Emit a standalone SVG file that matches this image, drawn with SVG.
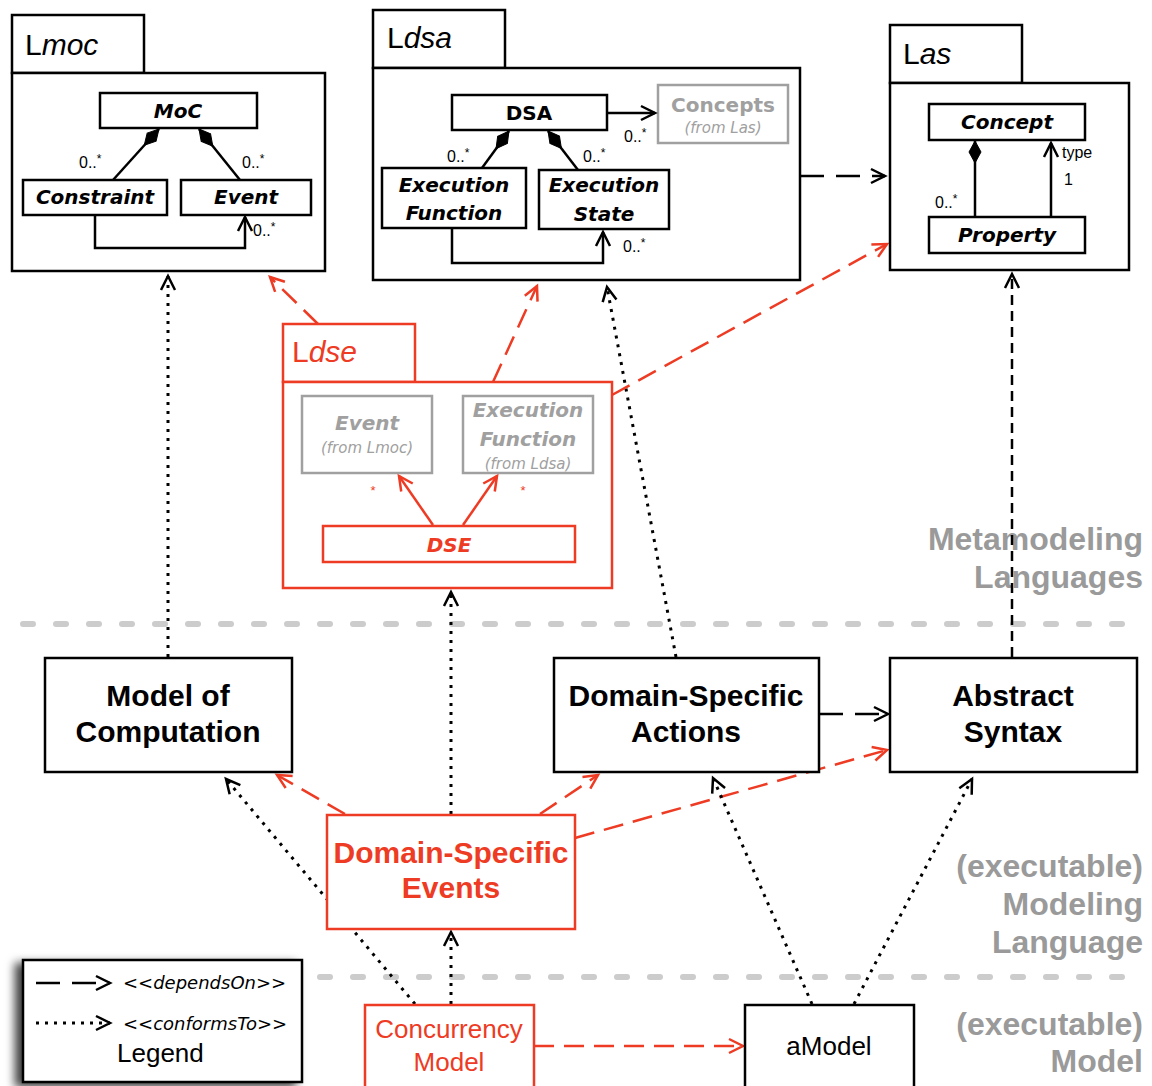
<svg xmlns="http://www.w3.org/2000/svg" width="1152" height="1086" viewBox="0 0 1152 1086">
<style>
.box{fill:#fff;stroke:#000;stroke-width:2.5}
.rbox{fill:#fff;stroke:#ee3b24;stroke-width:2.5}
.gbox{fill:#fff;stroke:#a0a0a0;stroke-width:2.5}
.pkg{font-family:"Liberation Sans",Arial,sans-serif;font-size:30px;fill:#000}
.uml{font-family:"DejaVu Sans",Verdana,sans-serif;font-size:20px;font-weight:bold;font-style:italic;text-anchor:middle;fill:#000}
.big{font-family:"Liberation Sans",Arial,sans-serif;font-size:30px;font-weight:bold;text-anchor:middle;fill:#000}
.mult{font-family:"Liberation Sans",Arial,sans-serif;font-size:16px;fill:#000}
.side{font-family:"Liberation Sans",Arial,sans-serif;font-size:32px;font-weight:bold;text-anchor:end;fill:#9a9a9a}
.from{font-family:"DejaVu Sans",Verdana,sans-serif;font-size:15px;font-style:italic;text-anchor:middle;fill:#a0a0a0}
.leg{font-family:"DejaVu Sans",Verdana,sans-serif;font-size:18px;font-style:italic;fill:#000}
.plain{font-family:"Liberation Sans",Arial,sans-serif;font-size:26px;text-anchor:middle;fill:#000}
.gray{fill:#a0a0a0}
.red{fill:#ee3b24}
.norm{font-style:normal}
.ln{fill:none;stroke:#000;stroke-width:2.5}
.dot{fill:none;stroke:#000;stroke-width:3;stroke-dasharray:3,6}
.dash{fill:none;stroke:#000;stroke-width:2.5;stroke-dasharray:10,6}
.ldash{fill:none;stroke:#000;stroke-width:2.5;stroke-dasharray:24,12}
.rdash{fill:none;stroke:#ee3b24;stroke-width:2.5;stroke-dasharray:20,10}
.rln{fill:none;stroke:#ee3b24;stroke-width:2.5}
.sep{fill:none;stroke:#cccccc;stroke-width:6;stroke-linecap:round;stroke-dasharray:10,23}
</style>
<defs>
<marker id="ab" markerUnits="userSpaceOnUse" viewBox="-16 -10 20 20" markerWidth="20" markerHeight="20" refX="0" refY="0" orient="auto" overflow="visible">
<path d="M-14,-7 L0,0 L-14,7" fill="none" stroke="#000" stroke-width="2.5" stroke-dasharray="none"/>
</marker>
<marker id="ar" markerUnits="userSpaceOnUse" viewBox="-16 -10 20 20" markerWidth="20" markerHeight="20" refX="0" refY="0" orient="auto" overflow="visible">
<path d="M-14,-7 L0,0 L-14,7" fill="none" stroke="#ee3b24" stroke-width="2.5" stroke-dasharray="none"/>
</marker>
<marker id="dia" markerUnits="userSpaceOnUse" viewBox="-2 -8 26 16" markerWidth="26" markerHeight="16" refX="0" refY="0" orient="auto" overflow="visible">
<path d="M0,0 L11,-6 L22,0 L11,6 Z" fill="#000" stroke="#000" stroke-width="1"/>
</marker>
<filter id="shadow" x="-20%" y="-20%" width="140%" height="150%">
<feDropShadow dx="-7" dy="4" stdDeviation="5" flood-color="#000" flood-opacity="0.75"/>
</filter>
</defs>

<!-- separators -->
<g id="separators">
<line class="sep" x1="23" y1="624" x2="1145" y2="624"/>
<line class="sep" x1="320" y1="977" x2="1145" y2="977"/>
</g>

<!-- side labels -->
<g id="level-labels">
<text class="side" x="1143" y="550">Metamodeling</text>
<text class="side" x="1143" y="588">Languages</text>
<text class="side" x="1143" y="877">(executable)</text>
<text class="side" x="1143" y="915">Modeling</text>
<text class="side" x="1143" y="953">Language</text>
<text class="side" x="1143" y="1035">(executable)</text>
<text class="side" x="1143" y="1072">Model</text>
</g>

<!-- connectors -->
<g id="connectors">
<line class="dot" x1="168" y1="657" x2="168" y2="276" marker-end="url(#ab)"/>
<line class="dot" x1="676" y1="657" x2="607" y2="287" marker-end="url(#ab)"/>
<line class="dot" x1="451" y1="814" x2="451" y2="592" marker-end="url(#ab)"/>
<line class="dash" x1="1012" y1="657" x2="1012" y2="274" marker-end="url(#ab)"/>
<line class="ldash" x1="800" y1="176" x2="885" y2="176" marker-end="url(#ab)"/>
<line class="rdash" x1="318" y1="324" x2="270" y2="277" marker-end="url(#ar)"/>
<line class="rdash" x1="493" y1="382" x2="537" y2="286" marker-end="url(#ar)"/>
<line class="rdash" x1="612" y1="395" x2="887" y2="244" marker-end="url(#ar)"/>
<line class="ldash" x1="819" y1="714" x2="888" y2="714" marker-end="url(#ab)"/>
<line class="rdash" x1="345" y1="814" x2="277" y2="775" marker-end="url(#ar)"/>
<line class="rdash" x1="540" y1="814" x2="598" y2="775" marker-end="url(#ar)"/>
<line class="rdash" x1="575" y1="838" x2="887" y2="750" marker-end="url(#ar)"/>
<line class="dot" x1="415" y1="1004" x2="226" y2="779" marker-end="url(#ab)"/>
<line class="dot" x1="451" y1="1004" x2="451" y2="932" marker-end="url(#ab)"/>
<line class="rdash" x1="534" y1="1046" x2="743" y2="1046" marker-end="url(#ar)"/>
<line class="dot" x1="812" y1="1004" x2="713" y2="778" marker-end="url(#ab)"/>
<line class="dot" x1="854" y1="1004" x2="972" y2="779" marker-end="url(#ab)"/>
</g>

<!-- Lmoc package -->
<g id="Lmoc">
<rect class="box" x="12" y="15" width="132" height="58"/>
<rect class="box" x="12" y="73" width="313" height="198"/>
<text class="pkg" x="25" y="55">L<tspan font-style="italic">moc</tspan></text>
<g id="MoC"><rect class="box" x="100" y="93" width="157" height="35"/><text class="uml" x="178" y="118">MoC</text></g>
<g id="Constraint"><rect class="box" x="23" y="180" width="144" height="35"/><text class="uml" x="95" y="204">Constraint</text></g>
<g id="Event"><rect class="box" x="181" y="180" width="130" height="35"/><text class="uml" x="246" y="204">Event</text></g>
<line class="ln" x1="159" y1="129" x2="113" y2="180" marker-start="url(#dia)"/>
<line class="ln" x1="199" y1="129" x2="240" y2="180" marker-start="url(#dia)"/>
<path class="ln" d="M95,215 V248 H245 V217" marker-end="url(#ab)"/>
<text class="mult" x="79" y="168">0..<tspan dy="-5" font-size="12">*</tspan></text>
<text class="mult" x="242" y="168">0..<tspan dy="-5" font-size="12">*</tspan></text>
<text class="mult" x="253" y="236">0..<tspan dy="-5" font-size="12">*</tspan></text>
</g>

<!-- Ldsa package -->
<g id="Ldsa">
<rect class="box" x="373" y="10" width="132" height="58"/>
<rect class="box" x="373" y="68" width="427" height="212"/>
<text class="pkg" x="387" y="48">L<tspan font-style="italic">dsa</tspan></text>
<g id="DSA"><rect class="box" x="452" y="95" width="155" height="35"/><text class="uml norm" x="529" y="120">DSA</text></g>
<g id="Concepts"><rect class="gbox" x="658" y="85" width="130" height="58"/>
<text class="uml norm gray" x="723" y="112">Concepts</text>
<text class="from" x="723" y="133">(from Las)</text></g>
<g id="ExecutionFunction"><rect class="box" x="382" y="168" width="144" height="60"/>
<text class="uml" x="454" y="192">Execution</text><text class="uml" x="454" y="220">Function</text></g>
<g id="ExecutionState"><rect class="box" x="539" y="170" width="130" height="59"/>
<text class="uml" x="604" y="192">Execution</text><text class="uml" x="604" y="221">State</text></g>
<line class="ln" x1="607" y1="113" x2="655" y2="113" marker-end="url(#ab)"/>
<line class="ln" x1="509" y1="131" x2="482" y2="168" marker-start="url(#dia)"/>
<line class="ln" x1="548" y1="131" x2="578" y2="170" marker-start="url(#dia)"/>
<path class="ln" d="M452,228 V263 H603 V232" marker-end="url(#ab)"/>
<text class="mult" x="624" y="142">0..<tspan dy="-5" font-size="12">*</tspan></text>
<text class="mult" x="447" y="162">0..<tspan dy="-5" font-size="12">*</tspan></text>
<text class="mult" x="583" y="162">0..<tspan dy="-5" font-size="12">*</tspan></text>
<text class="mult" x="623" y="252">0..<tspan dy="-5" font-size="12">*</tspan></text>
</g>

<!-- Las package -->
<g id="Las">
<rect class="box" x="890" y="25" width="132" height="58"/>
<rect class="box" x="890" y="83" width="239" height="187"/>
<text class="pkg" x="903" y="64">L<tspan font-style="italic">as</tspan></text>
<g id="Concept"><rect class="box" x="929" y="104" width="156" height="36"/><text class="uml" x="1007" y="129">Concept</text></g>
<g id="Property"><rect class="box" x="929" y="217" width="156" height="36"/><text class="uml" x="1007" y="242">Property</text></g>
<line class="ln" x1="975" y1="141" x2="975" y2="217" marker-start="url(#dia)"/>
<line class="ln" x1="1051" y1="217" x2="1051" y2="143" marker-end="url(#ab)"/>
<text class="mult" x="935" y="208">0..<tspan dy="-5" font-size="12">*</tspan></text>
<text class="mult" x="1062" y="158">type</text>
<text class="mult" x="1064" y="185">1</text>
</g>

<!-- Ldse package -->
<g id="Ldse">
<rect class="rbox" x="283" y="324" width="132" height="58"/>
<rect class="rbox" x="283" y="382" width="329" height="206"/>
<text class="pkg red" x="292" y="362">L<tspan font-style="italic">dse</tspan></text>
<g id="EventRef"><rect class="gbox" x="302" y="396" width="130" height="77"/>
<text class="uml gray" x="367" y="430">Event</text>
<text class="from" x="367" y="453">(from Lmoc)</text></g>
<g id="ExecutionFunctionRef"><rect class="gbox" x="463" y="396" width="130" height="77"/>
<text class="uml gray" x="528" y="417">Execution</text>
<text class="uml gray" x="528" y="446">Function</text>
<text class="from" x="528" y="469">(from Ldsa)</text></g>
<g id="DSE"><rect class="rbox" x="323" y="526" width="252" height="36"/><text class="uml red" x="449" y="552">DSE</text></g>
<line class="rln" x1="433" y1="525" x2="399" y2="476" marker-end="url(#ar)"/>
<line class="rln" x1="463" y1="525" x2="497" y2="476" marker-end="url(#ar)"/>
<text x="373" y="495" font-family="Liberation Sans,Arial,sans-serif" font-size="13" fill="#ee3b24" text-anchor="middle">*</text>
<text x="523" y="495" font-family="Liberation Sans,Arial,sans-serif" font-size="13" fill="#ee3b24" text-anchor="middle">*</text>
</g>

<!-- language level nodes -->
<g id="ModelOfComputation"><rect class="box" x="45" y="658" width="247" height="114"/>
<text class="big" x="168" y="706">Model of</text><text class="big" x="168" y="742">Computation</text></g>
<g id="DomainSpecificActions"><rect class="box" x="554" y="658" width="265" height="114"/>
<text class="big" x="686" y="706">Domain-Specific</text><text class="big" x="686" y="742">Actions</text></g>
<g id="AbstractSyntax"><rect class="box" x="890" y="658" width="247" height="114"/>
<text class="big" x="1013" y="706">Abstract</text><text class="big" x="1013" y="742">Syntax</text></g>
<g id="DomainSpecificEvents"><rect class="rbox" x="327" y="815" width="248" height="114"/>
<text class="big red" x="451" y="863">Domain-Specific</text><text class="big red" x="451" y="898">Events</text></g>

<!-- model level nodes -->
<g id="ConcurrencyModel"><rect class="rbox" x="365" y="1005" width="169" height="90"/>
<text class="plain red" x="449" y="1038">Concurrency</text>
<text class="plain red" x="449" y="1071">Model</text></g>
<g id="aModel"><rect class="box" x="745" y="1005" width="169" height="90"/>
<text class="plain" x="829" y="1055">aModel</text></g>

<!-- legend -->
<g id="Legend">
<rect x="23" y="960" width="279" height="122" fill="#fff" stroke="#000" stroke-width="2.5" filter="url(#shadow)"/>
<line class="ldash" x1="36" y1="983" x2="110" y2="983" marker-end="url(#ab)"/>
<text class="leg" x="123" y="989">&lt;&lt;dependsOn&gt;&gt;</text>
<line class="dot" x1="36" y1="1023" x2="110" y2="1023" marker-end="url(#ab)"/>
<text class="leg" x="123" y="1030">&lt;&lt;conformsTo&gt;&gt;</text>
<text x="117" y="1062" font-family="Liberation Sans,Arial,sans-serif" font-size="26" fill="#000">Legend</text>
</g>
</svg>
